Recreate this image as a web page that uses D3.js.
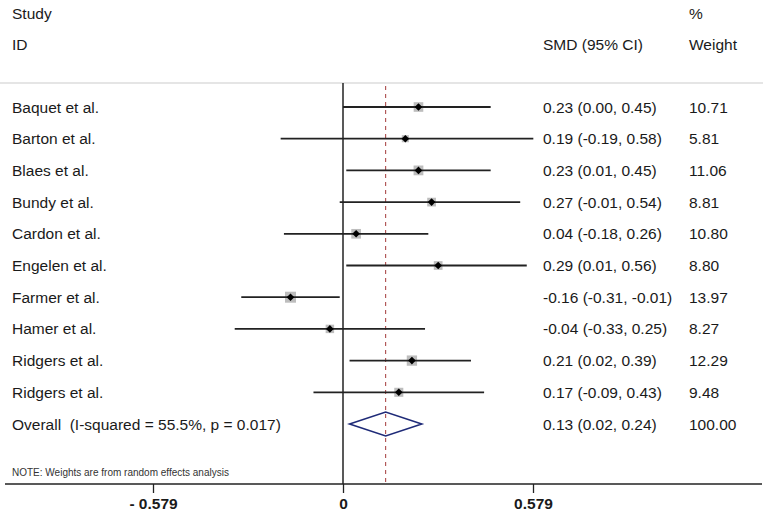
<!DOCTYPE html>
<html><head><meta charset="utf-8">
<script src="https://cdn.jsdelivr.net/npm/d3@7"></script>
<style>
body{margin:0;background:#fff;}
text{font-family:"Liberation Sans",Arial,Helvetica,sans-serif;fill:#1a1a1a;}
</style></head>
<body><svg id="c" width="767" height="517"></svg>
<script>
const studies = ["Baquet et al.","Barton et al.","Blaes et al.","Bundy et al.","Cardon et al.","Engelen et al.","Farmer et al.","Hamer et al.","Ridgers et al.","Ridgers et al."];
const smd = [0.23,0.19,0.23,0.27,0.04,0.29,-0.16,-0.04,0.21,0.17];
const ciLow = [0.00,-0.19,0.01,-0.01,-0.18,0.01,-0.31,-0.33,0.02,-0.09];
const ciHigh = [0.45,0.58,0.45,0.54,0.26,0.56,-0.01,0.25,0.39,0.43];
const weights = ["10.71","5.81","11.06","8.81","10.80","8.80","13.97","8.27","12.29","9.48"];
const overall = {label:"Overall  (I-squared = 55.5%, p = 0.017)", est:0.13, lo:0.02, hi:0.24, weight:"100.00"};
const tickValues = [-0.579, 0, 0.579];
const tickLabels = ["- 0.579", "0", "0.579"];

const FS = 15.5;
const svg = d3.select("#c");
const x = d3.scaleLinear().domain([-0.579, 0.579]).range([153, 533]);
const y = d3.scalePoint().domain(d3.range(11)).range([107, 424]);
const fmt = v => v.toFixed(2);
const colCI = 543, colW = 689, colL = 12;

// headers
const hdr = [["Study",colL,19],["ID",colL,50],["SMD (95% CI)",colCI,50],["%",colW,19],["Weight",colW,50]];
svg.selectAll("text.hdr").data(hdr).join("text").attr("class","hdr")
  .attr("x",d=>d[1]).attr("y",d=>d[2]).attr("font-size",FS).text(d=>d[0]);

// top separator
svg.append("line").attr("x1",0).attr("x2",763).attr("y1",83).attr("y2",83)
  .attr("stroke","#cccccc").attr("stroke-width",1.2);

// zero line
svg.append("line").attr("x1",x(0)).attr("x2",x(0)).attr("y1",83).attr("y2",484)
  .attr("stroke","#222").attr("stroke-width",1.5);
// overall dashed line
svg.append("line").attr("x1",x(overall.est)).attr("x2",x(overall.est)).attr("y1",86).attr("y2",484)
  .attr("stroke","#a33a3a").attr("stroke-width",1).attr("stroke-dasharray","4,4");

// study rows
const g = svg.selectAll("g.row").data(studies).join("g").attr("class","row");
g.append("text").attr("x",colL).attr("y",(d,i)=>y(i)+5.5).attr("font-size",FS).text(d=>d);
g.append("rect")
  .attr("x",(d,i)=>x(smd[i]) - Math.sqrt(+weights[i])*1.47)
  .attr("y",(d,i)=>y(i) - Math.sqrt(+weights[i])*1.47)
  .attr("width",(d,i)=>Math.sqrt(+weights[i])*2.94)
  .attr("height",(d,i)=>Math.sqrt(+weights[i])*2.94)
  .attr("fill","#bdbdbd");
g.append("line").attr("x1",(d,i)=>x(ciLow[i])).attr("x2",(d,i)=>x(ciHigh[i]))
  .attr("y1",(d,i)=>y(i)).attr("y2",(d,i)=>y(i)).attr("stroke","#222").attr("stroke-width",1.8);
g.append("path").attr("d",(d,i)=>{const cx=x(smd[i]),cy=y(i),r=3.8;return `M${cx},${cy-r}L${cx+r},${cy}L${cx},${cy+r}L${cx-r},${cy}Z`;})
  .attr("fill","#000");
g.append("text").attr("x",colCI).attr("y",(d,i)=>y(i)+5.5).attr("font-size",FS)
  .text((d,i)=>`${fmt(smd[i])} (${fmt(ciLow[i])}, ${fmt(ciHigh[i])})`);
g.append("text").attr("x",colW).attr("y",(d,i)=>y(i)+5.5).attr("font-size",FS).text((d,i)=>weights[i]);

// overall row
const oy = y(10);
svg.append("text").attr("x",colL).attr("y",oy+5.5).attr("font-size",FS).attr("xml:space","preserve").style("white-space","pre").text(overall.label);
svg.append("path").attr("d",`M${x(overall.lo)},${oy}L${x(overall.est)},${oy-12}L${x(overall.hi)},${oy}L${x(overall.est)},${oy+12}Z`)
  .attr("fill","none").attr("stroke","#1f2b78").attr("stroke-width",1.6);
svg.append("text").attr("x",colCI).attr("y",oy+5.5).attr("font-size",FS)
  .text(`${fmt(overall.est)} (${fmt(overall.lo)}, ${fmt(overall.hi)})`);
svg.append("text").attr("x",colW).attr("y",oy+5.5).attr("font-size",FS).text(overall.weight);

// note
svg.append("text").attr("x",12).attr("y",476).attr("font-size",10)
  .style("fill","#333")
  .text("NOTE: Weights are from random effects analysis");

// axis
const axG = svg.append("g").attr("transform","translate(0,484)");
const axis = d3.axisBottom(x).tickValues(tickValues).tickSize(9).tickFormat((d,i)=>tickLabels[i]);
axG.call(axis);
axG.select(".domain").remove();
axG.append("line").attr("x1",5).attr("x2",762).attr("y1",0).attr("y2",0).attr("stroke","#222").attr("stroke-width",1.6);
axG.selectAll(".tick line").attr("stroke","#222").attr("stroke-width",1.3);
axG.selectAll(".tick text").attr("font-size",15.5).attr("font-weight","bold").attr("dy","0.9em").attr("y",11)
  .attr("font-family","'Liberation Sans',Arial,sans-serif").attr("fill","#1a1a1a");
</script></body></html>
